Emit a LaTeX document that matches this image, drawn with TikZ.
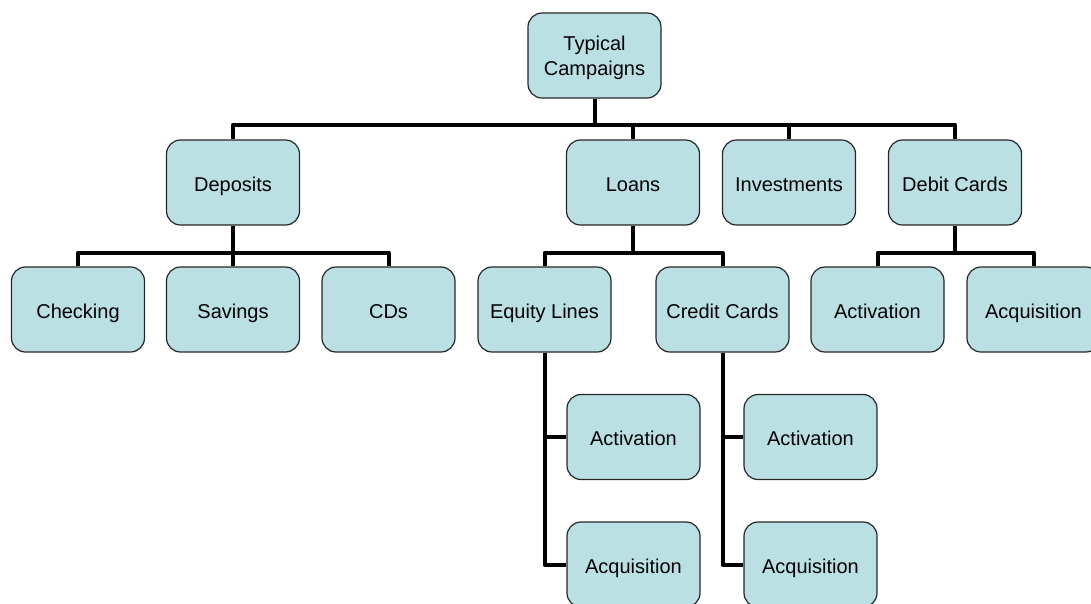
\documentclass[tikz,border=0pt]{standalone}
\usepackage{fontspec}
\setmainfont{Liberation Sans}
\definecolor{boxfill}{RGB}{187,224,227}

\begin{document}
\begin{tikzpicture}[x=1pt,y=-1pt,-]
    \tikzstyle{box}=[rectangle,rounded corners=14pt,draw=black!85,line width=1.2pt,fill=boxfill,
        minimum width=133pt,minimum height=85pt,inner sep=0pt,align=center,
        font=\fontsize{20}{24.5}\selectfont]
    \tikzstyle{onebox}=[box,text height=18pt,text depth=1pt]
    \tikzstyle{link}=[line width=4pt,line join=round]
    \clip (0,0) rectangle (1091,603);

    \node[box] (tc) at (594.5,55.5) {\rule{0pt}{19.5pt}Typical\\Campaigns};

    \foreach \name/\x/\txt in {dep/233/Deposits, loan/633/Loans, inv/789/Investments, debit/955/Debit Cards}
        \node[onebox] (\name) at (\x,182.5) {\txt};

    \foreach \name/\x/\txt in {chk/78/Checking, sav/233/Savings, cd/388.5/CDs,
            eq/544.5/Equity Lines, cc/722.5/Credit Cards,
            dact/877.5/Activation, dacq/1033.5/Acquisition}
        \node[onebox] (\name) at (\x,309.5) {\txt};

    \foreach \name/\x in {eq/633.5, cc/810.5} {
        \node[onebox] (\name-act) at (\x,437) {Activation};
        \node[onebox] (\name-acq) at (\x,564.5) {Acquisition};
    }

    % level 1
    \foreach \to in {dep, loan, inv, debit}
        \draw[link] (tc.south) -- ++(0,26) -| (\to.north);

    % level 2
    \foreach \from/\to in {dep/chk, dep/sav, dep/cd, loan/eq, loan/cc, debit/dact, debit/dacq}
        \draw[link] (\from.south) -- ++(0,27) -| (\to.north);

    % side branches
    \foreach \from in {eq, cc} {
        \draw[link] (\from.south) |- (\from-act.west);
        \draw[link] (\from.south) |- (\from-acq.west);
    }
\end{tikzpicture}
\end{document}
